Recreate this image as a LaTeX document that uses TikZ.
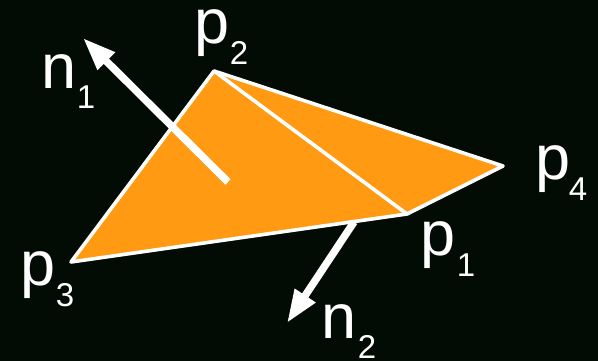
\documentclass[tikz,border=0pt]{standalone}
\usepackage{fontspec}
\setmainfont{Liberation Sans}
\usetikzlibrary{arrows.meta}
\definecolor{bgdark}{HTML}{020C04}
\definecolor{faceorange}{HTML}{FF9A12}
\begin{document}
\begin{tikzpicture}[x=1pt,y=-1pt,edge/.style={white,line width=3.6pt,line join=round},normal/.style={white,line width=7.5pt,-{Triangle[length=33pt,width=23pt]}},vertexlabel/.style={white,font=\fontsize{63}{63}\selectfont,inner sep=0pt},subscript/.style={white,font=\fontsize{33}{33}\selectfont,inner sep=0pt}]
\fill[bgdark] (0,0) rectangle (598,361);
\useasboundingbox (0,0) rectangle (598,361);
\coordinate (p1) at (407,214);
\coordinate (p2) at (214,71);
\coordinate (p3) at (71,262);
\coordinate (p4) at (503,166);
\coordinate (n1base) at (228,182);
\coordinate (n1tip) at (83,38);
\coordinate (n2base) at (354,222);
\coordinate (n2tip) at (287,323);
\draw[edge,fill=faceorange] (p2) -- (p4) -- (p1) -- (p3) -- cycle;
\draw[edge] (p2) -- (p1);
\draw[normal] (n1base) -- (n1tip);
\draw[normal] (n2base) -- (n2tip);
\node[vertexlabel] (lp2) at (212,33) {p};
\node[subscript] (sp2) at (239,53) {2};
\node[vertexlabel] (lp4) at (553,169) {p};
\node[subscript] (sp4) at (578,189) {4};
\node[vertexlabel] (lp1) at (438,245) {p};
\node[subscript] (sp1) at (466,265) {1};
\node[vertexlabel] (lp3) at (38,275) {p};
\node[subscript] (sp3) at (65,295) {3};
\node[vertexlabel] (ln1) at (59,72) {n};
\node[subscript] (sn1) at (86,97) {1};
\node[vertexlabel] (ln2) at (339,322) {n};
\node[subscript] (sn2) at (367,347) {2};
\end{tikzpicture}
\end{document}
